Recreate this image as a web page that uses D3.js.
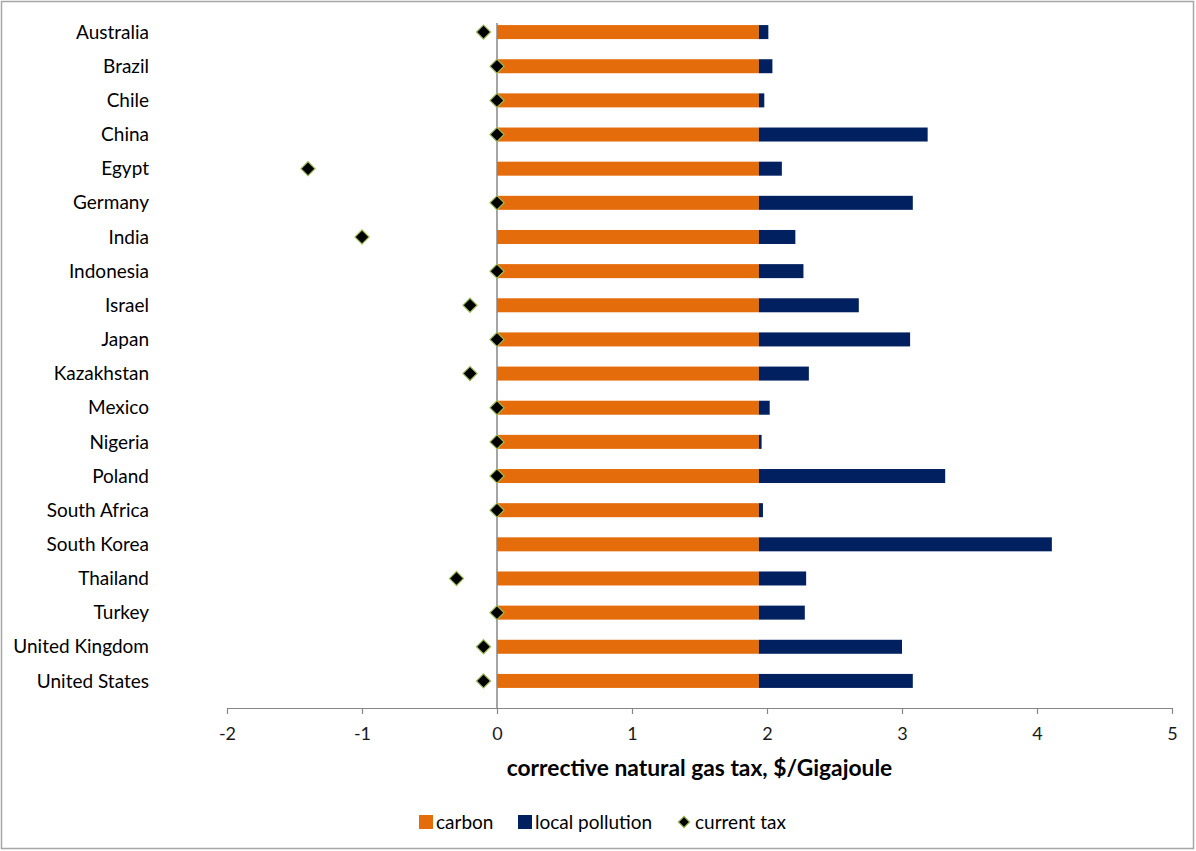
<!DOCTYPE html>
<html>
<head>
<meta charset="utf-8">
<script src="https://cdn.jsdelivr.net/npm/d3@7/dist/d3.min.js"></script>
<style>
  html, body { margin: 0; padding: 0; background: #fff; }
  svg { display: block; font-family: Lato, "Open Sans", sans-serif; }
</style>
</head>
<body>
<svg id="chart" width="1196" height="851"></svg>
<script>
// Countries, top to bottom
const countries = [
  "Australia", "Brazil", "Chile", "China", "Egypt", "Germany", "India",
  "Indonesia", "Israel", "Japan", "Kazakhstan", "Mexico", "Nigeria",
  "Poland", "South Africa", "South Korea", "Thailand", "Turkey",
  "United Kingdom", "United States"
];

// Corrective tax components, $/GJ
const carbon = [
  1.94, 1.94, 1.94, 1.94, 1.94, 1.94, 1.94, 1.94, 1.94, 1.94,
  1.94, 1.94, 1.94, 1.94, 1.94, 1.94, 1.94, 1.94, 1.94, 1.94
];
const localPollution = [
  0.07, 0.10, 0.04, 1.25, 0.17, 1.14, 0.27, 0.33, 0.74, 1.12,
  0.37, 0.08, 0.02, 1.38, 0.03, 2.17, 0.35, 0.34, 1.06, 1.14
];

// Current tax (negative = subsidy); no value for South Korea
const currentTax = [
  -0.1, 0, 0, 0, -1.4, 0, -1.0, 0, -0.2, 0,
  -0.2, 0, 0, 0, 0, null, -0.3, 0, -0.1, -0.1
];

const xTicks = [-2, -1, 0, 1, 2, 3, 4, 5];
const xTitle = "corrective natural gas tax, $/Gigajoule";
const seriesNames = ["carbon", "local pollution", "current tax"];

const colors = {
  carbon: "#E46C0A",
  pollution: "#002060",
  marker: "#000000",
  markerEdge: "#9BBB59",
  axis: "#868686",
  border: "#A6A6A6"
};

const svg = d3.select("#chart");
const W = 1196, H = 851;

// Outer chart frame
svg.append("rect")
  .attr("x", 1.5).attr("y", 1.5)
  .attr("width", W - 4).attr("height", H - 4)
  .attr("fill", "#fff")
  .attr("stroke", colors.border).attr("stroke-width", 1.5);

const plot = { left: 227, right: 1172, top: 15, bottom: 698, axisY: 708, lineTop: 23 };

const x = d3.scaleLinear().domain([-2, 5]).range([plot.left, plot.right]);
const y = d3.scaleBand().domain(countries).range([plot.top, plot.bottom]).paddingInner(0.59).paddingOuter(0.295);

const rows = countries.map((c, i) => ({
  country: c,
  carbon: carbon[i],
  pollution: localPollution[i],
  tax: currentTax[i]
}));

// Carbon segment
svg.append("g").selectAll("rect")
  .data(rows).join("rect")
  .attr("x", d => x(0))
  .attr("y", d => y(d.country))
  .attr("width", d => x(d.carbon) - x(0))
  .attr("height", y.bandwidth())
  .attr("fill", colors.carbon);

// Local pollution segment, stacked after carbon
svg.append("g").selectAll("rect")
  .data(rows).join("rect")
  .attr("x", d => x(d.carbon))
  .attr("y", d => y(d.country))
  .attr("width", d => x(d.carbon + d.pollution) - x(d.carbon))
  .attr("height", y.bandwidth())
  .attr("fill", colors.pollution);

// Vertical line at zero
svg.append("line")
  .attr("x1", x(0)).attr("x2", x(0))
  .attr("y1", plot.lineTop).attr("y2", plot.axisY)
  .attr("stroke", colors.axis).attr("stroke-width", 1.5);

// Horizontal value axis
const xAxis = d3.axisBottom(x).tickValues(xTicks).tickSize(6).tickSizeOuter(0).tickFormat(d => String(d));
const gx = svg.append("g")
  .attr("transform", `translate(0,${plot.axisY})`)
  .call(xAxis);
gx.select(".domain").attr("stroke", colors.axis).attr("stroke-width", 1.2);
gx.selectAll(".tick line").attr("stroke", colors.axis).attr("stroke-width", 1.2);
gx.selectAll(".tick text")
  .attr("dy", 0).attr("y", 32)
  .attr("fill", "#1a1a1a")
  .style("font-size", "18px")
  .style("font-family", "Lato, sans-serif");

// Axis title
svg.append("text")
  .attr("x", (plot.left + plot.right) / 2)
  .attr("y", 776)
  .attr("text-anchor", "middle")
  .attr("fill", "#000")
  .style("font-size", "22.8px")
  .style("font-weight", "bold")
  .text(xTitle);

// Category labels
svg.append("g").selectAll("text")
  .data(rows).join("text")
  .attr("x", 149)
  .attr("y", d => y(d.country) + y.bandwidth() / 2)
  .attr("dy", "0.35em")
  .attr("text-anchor", "end")
  .attr("fill", "#000")
  .style("font-size", "19px")
  .text(d => d.country);

// Current tax markers
const diamond = d3.symbol().type(d3.symbolSquare).size(100);
svg.append("g").selectAll("path")
  .data(rows.filter(d => d.tax !== null)).join("path")
  .attr("d", diamond)
  .attr("transform", d => `translate(${x(d.tax)},${y(d.country) + y.bandwidth() / 2}) rotate(45)`)
  .attr("fill", colors.marker)
  .attr("stroke", colors.markerEdge).attr("stroke-width", 1.2);

// Legend
const legend = svg.append("g").style("font-size", "19px").attr("fill", "#000");
const legY = 822;
legend.append("rect").attr("x", 419).attr("y", legY - 7).attr("width", 14).attr("height", 14).attr("fill", colors.carbon);
legend.append("text").attr("x", 436).attr("y", legY).attr("dy", "0.35em").text(seriesNames[0]);
legend.append("rect").attr("x", 518).attr("y", legY - 7).attr("width", 14).attr("height", 14).attr("fill", colors.pollution);
legend.append("text").attr("x", 535).attr("y", legY).attr("dy", "0.35em").text(seriesNames[1]);
legend.append("path")
  .attr("d", d3.symbol().type(d3.symbolSquare).size(64))
  .attr("transform", `translate(684,${legY}) rotate(45)`)
  .attr("fill", colors.marker)
  .attr("stroke", colors.markerEdge).attr("stroke-width", 1.2);
legend.append("text").attr("x", 695).attr("y", legY).attr("dy", "0.35em").text(seriesNames[2]);
</script>
</body>
</html>
